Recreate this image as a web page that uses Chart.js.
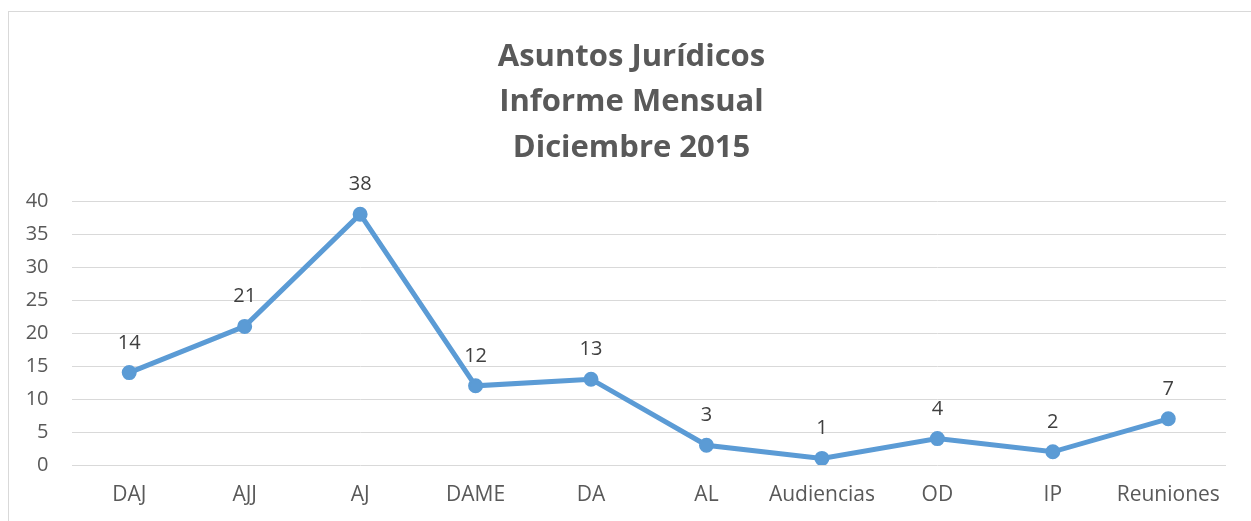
<!DOCTYPE html>
<html>
<head>
<meta charset="utf-8">
<script src="https://cdn.jsdelivr.net/npm/chart.js@4/dist/chart.umd.min.js"></script>
<style>
  html, body { margin: 0; padding: 0; background: #fff; overflow: hidden; }
  #wrap { position: relative; width: 1251px; height: 521px; }
  #frame { position: absolute; left: 8px; top: 11px; width: 1300px; height: 600px; border: 1px solid #d9d9d9; box-sizing: border-box; }
  canvas { position: absolute; left: 0; top: 0; }
</style>
</head>
<body>
<div id="wrap">
  <div id="frame"></div>
  <canvas id="c" width="1251" height="521"></canvas>
</div>
<script>
const titleLines = ['Asuntos Jurídicos', 'Informe Mensual', 'Diciembre 2015'];
const categories = ['DAJ', 'AJJ', 'AJ', 'DAME', 'DA', 'AL', 'Audiencias', 'OD', 'IP', 'Reuniones'];
const values = [14, 21, 38, 12, 13, 3, 1, 4, 2, 7];
const yTicks = [0, 5, 10, 15, 20, 25, 30, 35, 40];

const titlePlugin = {
  id: 'multiTitle',
  afterDraw(chart) {
    const ctx = chart.ctx;
    ctx.save();
    ctx.font = 'bold 31px "Open Sans"';
    ctx.fillStyle = '#595959';
    ctx.textAlign = 'center';
    ctx.textBaseline = 'alphabetic';
    titleLines.forEach((t, i) => ctx.fillText(t, 631.5, 65.5 + i * 45.8));
    ctx.restore();
  }
};

const labelPlugin = {
  id: 'pointLabels',
  afterDatasetsDraw(chart) {
    const ctx = chart.ctx;
    const meta = chart.getDatasetMeta(0);
    ctx.save();
    ctx.font = '20px "Open Sans"';
    ctx.fillStyle = '#404040';
    ctx.textAlign = 'center';
    ctx.textBaseline = 'alphabetic';
    meta.data.forEach((pt, i) => {
      ctx.fillText(String(chart.data.datasets[0].data[i]), pt.x, pt.y - 24);
    });
    ctx.restore();
  }
};

new Chart(document.getElementById('c'), {
  type: 'line',
  data: {
    labels: categories,
    datasets: [{
      data: values,
      borderColor: '#5B9BD5',
      backgroundColor: '#5B9BD5',
      borderWidth: 5,
      pointRadius: 6.5,
      pointBorderWidth: 2,
      pointBackgroundColor: '#5B9BD5',
      pointBorderColor: '#5B9BD5',
      tension: 0,
      fill: false
    }]
  },
  options: {
    responsive: false,
    animation: false,
    devicePixelRatio: 1,
    layout: { padding: { left: 0, right: 25, top: 201, bottom: 0 } },
    plugins: {
      legend: { display: false },
      tooltip: { enabled: false },
      title: { display: false }
    },
    scales: {
      x: {
        offset: true,
        grid: { display: false, drawTicks: false },
        border: { display: false },
        ticks: { color: '#595959', font: { family: 'Open Sans', size: 21 }, padding: 17, maxRotation: 0, autoSkip: false },
        afterFit(s) { s.height = 56; }
      },
      y: {
        min: 0,
        max: 40,
        afterBuildTicks(s) { s.ticks = yTicks.map(v => ({ value: v })); },
        grid: { color: '#d9d9d9', lineWidth: 1, drawTicks: false },
        border: { display: false },
        ticks: { color: '#595959', font: { family: 'Open Sans', size: 20 }, padding: 23 },
        afterFit(s) { s.width = 71.5; }
      }
    }
  },
  plugins: [labelPlugin, titlePlugin]
});
</script>
</body>
</html>
